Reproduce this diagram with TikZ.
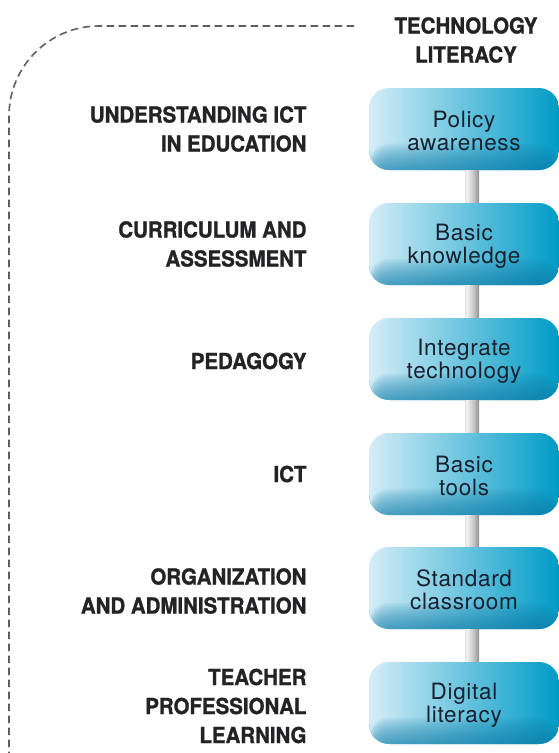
\documentclass[tikz,border=0pt]{standalone}
\usepackage{fontspec}
\setmainfont{TeX Gyre Heros}
\newfontfamily\headfont[FakeStretch=0.93, FakeBold=1.2]{TeX Gyre Heros}
\newfontfamily\stagefont[LetterSpace=3]{TeX Gyre Heros}

\definecolor{boxlight}{RGB}{212,237,247}
\definecolor{boxmid}{RGB}{150,214,236}
\definecolor{boxdark}{RGB}{0,155,198}
\definecolor{boxshade}{RGB}{15,125,170}
\definecolor{boxtext}{RGB}{25,32,45}
\definecolor{headtext}{RGB}{35,35,38}
\definecolor{dashgray}{RGB}{95,95,95}

\pgfdeclarehorizontalshading{metal}{100bp}{color(0bp)=(gray!75); color(30bp)=(gray!10); color(55bp)=(gray!45); color(100bp)=(black!70)}

\newcommand{\stagetext}[2]{\rule{0pt}{20pt}#1\\#2}

\tikzset{
    stage/.style={rounded corners=20pt, minimum width=190pt, minimum height=82pt,
        left color=boxlight, middle color=boxmid, right color=boxdark,
        text=boxtext, align=center, inner sep=0pt,
        font=\stagefont\fontsize{22.5}{23}\selectfont,
        path picture={
            \foreach \i in {1,...,12}
                \fill[boxshade, opacity=0.08]
                    (path picture bounding box.south west) rectangle
                    ([yshift=\i*2.2pt]path picture bounding box.south east);
        }},
    area/.style={anchor=east, align=right, text=headtext,
        font=\headfont\bfseries\fontsize{22}{29}\selectfont},
    bar/.style={shading=metal}
}

\begin{document}
\begin{tikzpicture}[x=1pt, y=-1pt]
    \useasboundingbox (0,0) rectangle (558,753);

    % frame
    \draw[dashgray, line width=1.6pt, dash pattern=on 7.5pt off 4.5pt, rounded corners=90pt]
        (354,26) -- (9,26) -- (9,760);

    % column heading
    \node[align=center, text=headtext, font=\headfont\bfseries\fontsize{22}{29}\selectfont]
        (head) at (466,40) {TECHNOLOGY\\LITERACY};

    % stages
    \node[stage] (policy) at (464,129) {\stagetext{Policy}{awareness}};
    \node[stage] (knowledge) at (464,244) {\stagetext{Basic}{knowledge}};
    \node[stage] (integrate) at (464,359) {\stagetext{Integrate}{technology}};
    \node[stage] (tools) at (464,474) {\stagetext{Basic}{tools}};
    \node[stage] (classroom) at (464,588) {\stagetext{Standard}{classroom}};
    \node[stage] (digital) at (464,703) {\stagetext{Digital}{literacy}};

    % bars
    \shade[bar] ([xshift=1pt]policy.south) rectangle ([xshift=15pt]knowledge.north);
    \shade[bar] ([xshift=1pt]knowledge.south) rectangle ([xshift=15pt]integrate.north);
    \shade[bar] ([xshift=1pt]integrate.south) rectangle ([xshift=15pt]tools.north);
    \shade[bar] ([xshift=1pt]tools.south) rectangle ([xshift=15pt]classroom.north);
    \shade[bar] ([xshift=1pt]classroom.south) rectangle ([xshift=15pt]digital.north);

    % aspects
    \node[area] (ict-edu) at (310,129) {UNDERSTANDING ICT\\IN EDUCATION};
    \node[area] (curriculum) at (310,244) {CURRICULUM AND\\ASSESSMENT};
    \node[area] (pedagogy) at (310,361) {PEDAGOGY};
    \node[area] (ict) at (310,474) {ICT};
    \node[area] (organization) at (310,591) {ORGANIZATION\\AND ADMINISTRATION};
    \node[area] (teacher) at (310,706) {TEACHER\\PROFESSIONAL\\LEARNING};
\end{tikzpicture}
\end{document}
